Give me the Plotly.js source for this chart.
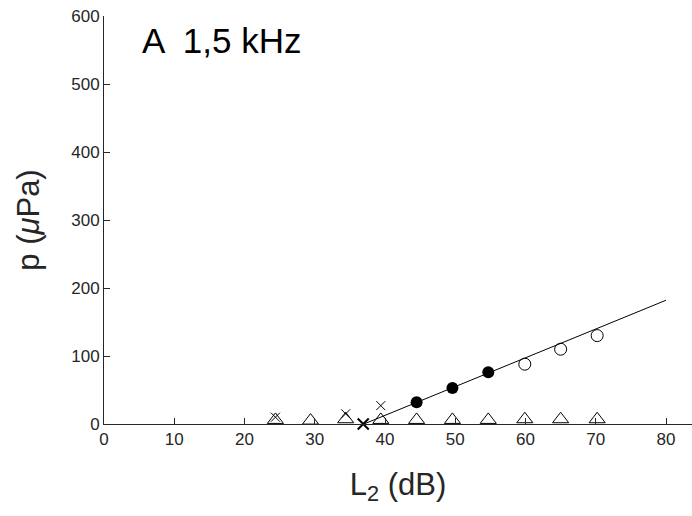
<!DOCTYPE html>
<html>
<head>
<meta charset="utf-8">
<script src="https://cdn.plot.ly/plotly-3.0.1.min.js"></script>
<style>html,body{margin:0;padding:0;background:#fff;}#chart{width:692px;height:516px;}</style>
</head>
<body>
<div id="chart"></div>
<script>
// Data
const fitX = [37, 80];
const fitY = [0, 182];
const filledX = [44.5, 49.6, 54.7];
const filledY = [32, 53, 76];
const openX = [59.9, 65.0, 70.2];
const openY = [88, 110, 130];
const triX = [24.4, 29.4, 34.4, 39.4, 44.5, 49.6, 54.7, 59.9, 65.0, 70.2];
const triY = [6, 5, 7, 6, 6, 6, 6, 7, 7, 7];
const smallXx = [24.4, 34.4, 39.4];
const smallXy = [10, 15, 27];
const bigXx = [36.9];
const bigXy = [0];
const xTicks = [0, 10, 20, 30, 40, 50, 60, 70, 80];
const yTicks = [0, 100, 200, 300, 400, 500, 600];

const font = 'Arial, "Liberation Sans", sans-serif';
const axisCol = '#262626';

const traces = [
  {x: fitX, y: fitY, mode: 'lines', line: {color: '#000', width: 1}, hoverinfo: 'skip'},
  {x: triX, y: triY, mode: 'markers', marker: {symbol: 'triangle-up-open', size: 14, color: '#000', line: {width: 1}}},
  {x: filledX, y: filledY, mode: 'markers', marker: {symbol: 'circle', size: 12, color: '#000'}},
  {x: openX, y: openY, mode: 'markers', marker: {symbol: 'circle-open', size: 12, color: '#000', line: {width: 1}}},
  {x: smallXx, y: smallXy, mode: 'markers', marker: {symbol: 'x-thin-open', size: 9, color: '#000', line: {width: 1, color: '#000'}}},
  {x: bigXx, y: bigXy, mode: 'markers', marker: {symbol: 'x-thin-open', size: 11, color: '#000', line: {width: 2, color: '#000'}}, cliponaxis: false}
];

const layout = {
  width: 692, height: 516,
  margin: {l: 104, r: 0, t: 16, b: 92},
  paper_bgcolor: '#fff', plot_bgcolor: '#fff',
  showlegend: false,
  font: {family: font, color: axisCol},
  xaxis: {
    range: [0, 83.7], tickvals: xTicks, ticktext: xTicks.map(String),
    ticks: 'inside', ticklen: 6, tickcolor: axisCol, tickwidth: 1,
    showgrid: false, zeroline: false, showline: true, linecolor: axisCol, linewidth: 1,
    tickfont: {size: 17, color: axisCol, family: font},
    title: {text: 'L<sub>2</sub> (dB)', font: {size: 31, color: axisCol, family: font}, standoff: 24}
  },
  yaxis: {
    range: [0, 600], tickvals: yTicks, ticktext: yTicks.map(String),
    ticks: 'inside', ticklen: 6, tickcolor: axisCol, tickwidth: 1,
    showgrid: false, zeroline: false, showline: true, linecolor: axisCol, linewidth: 1,
    tickfont: {size: 17, color: axisCol, family: font},
    title: {text: 'p (<i>μ</i>Pa)', font: {size: 31, color: axisCol, family: font}, standoff: 22}
  },
  annotations: [{
    xref: 'paper', yref: 'paper', x: 0.061, y: 0.939, xanchor: 'left', yanchor: 'middle',
    text: 'A  1,5 kHz', showarrow: false, font: {size: 35, color: '#000', family: font}
  }]
};

Plotly.newPlot('chart', traces, layout, {staticPlot: true});
</script>
</body>
</html>
